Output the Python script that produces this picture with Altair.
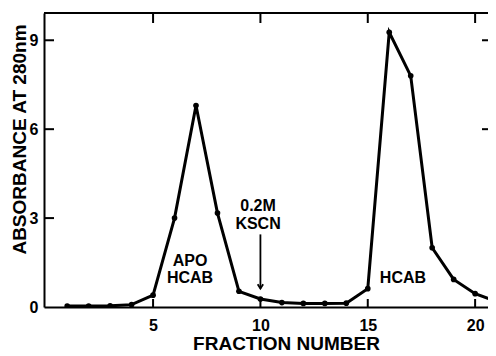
import altair as alt
import pandas as pd

# data
fraction = [1, 2, 3, 4, 5, 6, 7, 8, 9, 10, 11, 12, 13, 14, 15, 16, 17, 18, 19, 20, 21]
absorbance = [0.03, 0.03, 0.04, 0.08, 0.4, 3.0, 6.8, 3.17, 0.53, 0.27, 0.15, 0.12, 0.12, 0.13, 0.62,
              9.27, 7.8, 2.0, 0.93, 0.45, 0.18]

x_ticks = [5, 10, 15, 20]
y_ticks = [3, 6, 9]
y_labels = [0, 3, 6, 9]
right_ticks = [6, 9]

ann_text = ["APO", "HCAB", "0.2M", "KSCN", "HCAB"]
ann_x = [6.72, 6.72, 9.89, 9.89, 16.64]
ann_y = [1.54, 0.97, 3.40, 2.79, 0.97]

arrow_x = [10]
arrow_top = [2.45]
arrow_bottom = [0.62]

FONT = "Liberation Sans"
W, H = 444, 294
XDOM = [-0.08, 20.6]
YDOM = [0, 9.92]

df = pd.DataFrame({"fraction": fraction, "abs": absorbance})
xs = alt.Scale(domain=XDOM, nice=False, zero=False)
ys = alt.Scale(domain=YDOM, nice=False)

base_x = alt.X("fraction:Q", scale=xs,
               axis=alt.Axis(values=x_ticks, ticks=False, grid=False, domainColor="black",
                             domainWidth=2, labelFontSize=16, labelFontWeight="bold",
                             labelPadding=10, labelColor="black", labelFont=FONT,
                             title="FRACTION NUMBER", titleFontSize=19, titleFont=FONT,
                             titleFontWeight="bold", titleColor="black",
                             titleX=242, titleY=36, titleBaseline="middle", titleAlign="center"))
base_y = alt.Y("abs:Q", scale=ys,
               axis=alt.Axis(values=y_labels, ticks=False, grid=False, domainColor="black",
                             domainWidth=2, labelFontSize=16, labelFontWeight="bold",
                             labelPadding=6, labelColor="black", labelFont=FONT,
                             title="ABSORBANCE AT 280nm", titleFontSize=19, titleFont=FONT,
                             titleFontWeight="bold", titleColor="black",
                             titleX=-25, titleY=126, titleBaseline="middle", titleAlign="center",
                             titleAngle=270))

line = alt.Chart(df).mark_line(color="black", strokeWidth=3, clip=True).encode(x=base_x, y=base_y)
pts = alt.Chart(df).mark_circle(color="black", size=32, opacity=1, clip=True).encode(
    x=alt.X("fraction:Q", scale=xs), y=alt.Y("abs:Q", scale=ys))

top_line = alt.Chart(pd.DataFrame({"a": [0]})).mark_rule(color="black", strokeWidth=2).encode(
    x=alt.value(0), x2=alt.value(W), y=alt.value(0))

xt = pd.DataFrame({"t": x_ticks})
bt = alt.Chart(xt).mark_rule(color="black", strokeWidth=2).encode(
    x=alt.X("t:Q", scale=xs), y=alt.value(H), y2=alt.value(H - 8))
tt = alt.Chart(xt).mark_rule(color="black", strokeWidth=2).encode(
    x=alt.X("t:Q", scale=xs), y=alt.value(0), y2=alt.value(10))
yt = pd.DataFrame({"t": y_ticks})
lt = alt.Chart(yt).mark_rule(color="black", strokeWidth=2).encode(
    y=alt.Y("t:Q", scale=ys), x=alt.value(0), x2=alt.value(10))
rt = alt.Chart(pd.DataFrame({"t": right_ticks})).mark_rule(color="black", strokeWidth=2).encode(
    y=alt.Y("t:Q", scale=ys), x=alt.value(W - 6), x2=alt.value(W))

ann = alt.Chart(pd.DataFrame({"text": ann_text, "x": ann_x, "y": ann_y})).mark_text(
    font=FONT, fontSize=16, fontWeight="bold", color="black", baseline="middle", align="center"
).encode(x=alt.X("x:Q", scale=xs), y=alt.Y("y:Q", scale=ys), text="text:N")

adf = pd.DataFrame({"x": arrow_x, "y1": arrow_top, "y2": arrow_bottom})
arrow = alt.Chart(adf).mark_rule(color="black", strokeWidth=1.8).encode(
    x=alt.X("x:Q", scale=xs), y=alt.Y("y1:Q", scale=ys), y2="y2:Q")
head = alt.Chart(adf).mark_point(
    shape="M-1,-1.6L0,0L1,-1.6", filled=False, color="black", strokeWidth=1.8, size=30, opacity=1
).encode(x=alt.X("x:Q", scale=xs), y=alt.Y("y2:Q", scale=ys))

chart = alt.layer(line, pts, top_line, bt, tt, lt, rt, ann, arrow, head).properties(
    width=W, height=H,
    autosize=alt.AutoSizeParams(type="none"),
    padding={"left": 36, "top": 5, "right": 0, "bottom": 50},
    background="white",
).configure_view(stroke=None)

chart.save("out.html", embed_options={"renderer": "svg", "actions": False})
